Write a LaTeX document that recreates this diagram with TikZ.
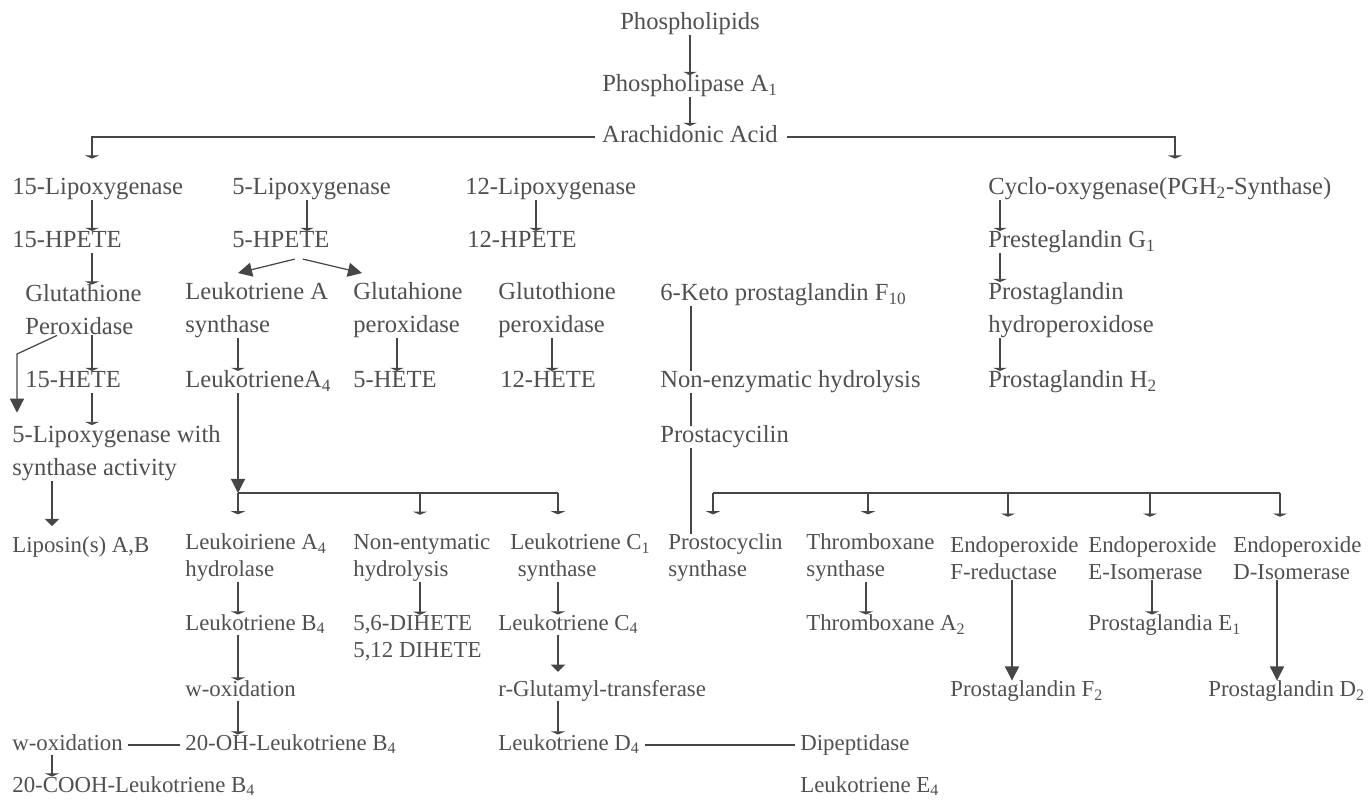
\documentclass[tikz,border=0pt]{standalone}
\usepackage{fontspec}
\setmainfont{Liberation Serif}
\usetikzlibrary{arrows.meta,calc}
\definecolor{ink}{RGB}{70,70,70}
\definecolor{txt}{RGB}{80,80,80}
\begin{document}
\begin{tikzpicture}[x=0.02cm,y=-0.02cm,
    txtup/.style={anchor=west,inner sep=0pt,align=left,text=txt,font=\fontsize{14}{18.7}\selectfont},
    txtlo/.style={anchor=west,inner sep=0pt,align=left,text=txt,font=\fontsize{13}{15.4}\selectfont},
    oneup/.style={txtup,text height=9.5pt,text depth=2.7pt},
    onelo/.style={txtlo,text height=9pt,text depth=2.5pt},
    ln/.style={ink,line width=0.7pt},
    gap/.style={ln,shorten <=3pt,shorten >=3pt},
    arr/.style={ln,-{Triangle[length=1.8pt,width=8pt]}},
    arrm/.style={ln,-{Triangle[length=4pt,width=8pt]}},
    arrb/.style={ln,-{Triangle[length=8pt,width=8pt]}}]
\useasboundingbox (0,0) rectangle (1368,807);

% arrow columns
\coordinate (c15) at (92,0);   \coordinate (c5) at (307,0);
\coordinate (c12) at (536,0);  \coordinate (cLA) at (238,0);
\coordinate (cGP) at (397,0);  \coordinate (cGT) at (552,0);
\coordinate (cPK) at (691,0);  \coordinate (cCO) at (1000,0);
\coordinate (cR) at (1175,0);  \coordinate (cNE) at (420,0);
\coordinate (cLC) at (558,0);  \coordinate (cLP) at (52,0);
\coordinate (bend) at (17,354);

% top
\node[oneup,anchor=center] (phl) at (690,24) {Phospholipids};
\node[oneup,anchor=center] (pla) at (690,86) {Phospholipase A\textsubscript{1}};
\node[oneup,anchor=center] (aa) at (690,137) {Arachidonic Acid};

\node[oneup] (l15) at (12,189) {15-Lipoxygenase};
\node[oneup] (l5) at (232,189) {5-Lipoxygenase};
\node[oneup] (l12) at (465,189) {12-Lipoxygenase};
\node[oneup] (cox) at (988,189) {Cyclo-oxygenase(PGH\textsubscript{2}-Synthase)};

\node[oneup] (hp15) at (12,242) {15-HPETE};
\node[oneup] (hp5) at (232,242) {5-HPETE};
\node[oneup] (hp12) at (467,242) {12-HPETE};
\node[oneup] (pgg) at (988,242) {Presteglandin G\textsubscript{1}};

\node[txtup] (gp15) at (25,310) {Glutathione\\Peroxidase};
\node[txtup] (lta) at (185,310) {Leukotriene A\\synthase};
\node[txtup] (gp5) at (353,310) {Glutahione\\peroxidase};
\node[txtup] (gp12) at (498,310) {Glutothione\\peroxidase};
\node[oneup] (keto) at (660,295) {6-Keto prostaglandin F\textsubscript{10}};
\node[txtup] (pgp) at (988,310) {Prostaglandin\\hydroperoxidose};

\node[oneup] (he15) at (25,382) {15-HETE};
\node[oneup] (lta4) at (185,382) {LeukotrieneA\textsubscript{4}};
\node[oneup] (he5) at (353,382) {5-HETE};
\node[oneup] (he12) at (500,382) {12-HETE};
\node[oneup] (neh) at (660,382) {Non-enzymatic hydrolysis};
\node[oneup] (pgh) at (988,382) {Prostaglandin H\textsubscript{2}};

\node[txtup] (lox) at (12,453) {5-Lipoxygenase with\\synthase activity};
\node[oneup] (pcy) at (660,437) {Prostacycilin};

% lower part
\node[onelo] (lps) at (12,547) {Liposin(s) A,B};
\node[txtlo] (lah) at (185,558) {Leukoiriene A\textsubscript{4}\\hydrolase};
\node[txtlo] (neh2) at (353,558) {Non-entymatic\\hydrolysis};
\node[txtlo] (lcs) at (510,558) {Leukotriene C\textsubscript{1}\\\hspace*{0.15cm}synthase};
\node[txtlo] (pcs) at (668,558) {Prostocyclin\\synthase};
\node[txtlo] (txs) at (806,558) {Thromboxane\\synthase};
\node[txtlo] (efr) at (950,558) {Endoperoxide\\F-reductase};
\node[txtlo] (eei) at (1088,558) {Endoperoxide\\E-Isomerase};
\node[txtlo] (edi) at (1233,558) {Endoperoxide\\D-Isomerase};

\node[onelo] (ltb4) at (185,625) {Leukotriene B\textsubscript{4}};
\node[txtlo] (dih) at (353,638) {5,6-DIHETE\\5,12 DIHETE};
\node[onelo] (ltc4) at (498,625) {Leukotriene C\textsubscript{4}};
\node[onelo] (txa) at (806,625) {Thromboxane A\textsubscript{2}};
\node[onelo] (pge) at (1088,625) {Prostaglandia E\textsubscript{1}};

\node[onelo] (wox) at (185,691) {w-oxidation};
\node[onelo] (rgt) at (498,691) {r-Glutamyl-transferase};
\node[onelo] (pgf) at (950,691) {Prostaglandin F\textsubscript{2}};
\node[onelo] (pgd) at (1208,691) {Prostaglandin D\textsubscript{2}};

\node[onelo] (wox2) at (12,745) {w-oxidation};
\node[onelo] (ohb) at (185,745) {20-OH-Leukotriene B\textsubscript{4}};
\node[onelo] (ltd4) at (498,745) {Leukotriene D\textsubscript{4}};
\node[onelo] (dip) at (800,745) {Dipeptidase};
\node[onelo] (cooh) at (12,787) {20-COOH-Leukotriene B\textsubscript{4}};
\node[onelo] (lte4) at (800,787) {Leukotriene E\textsubscript{4}};

% junctions
\coordinate (jl) at (238,493); \coordinate (jr) at (558,493);
\coordinate (kl) at (713,493); \coordinate (kr) at (1280,493);

% connectors, top
\draw[arr] (phl) -- (pla);
\draw[arr] (pla) -- (aa);
\draw[arr,shorten <=4pt,shorten >=11pt] (aa.west) -| (l15.north -| c15);
\draw[arr,shorten <=5pt,shorten >=11pt] (aa.east) -| (cox.north -| cR);
\draw[arr] (l15.south -| c15) -- (hp15.north -| c15);
\draw[arr] (l5.south -| c5) -- (hp5.north -| c5);
\draw[arr] (l12.south -| c12) -- (hp12.north -| c12);
\draw[arr] (cox.south -| cCO) -- (pgg.north -| cCO);
\draw[arr] (pgg.south -| cCO) -- (pgp.north -| cCO);
\draw[arr] (pgp.south -| cCO) -- (pgh.north -| cCO);
\draw[arr] (hp15.south -| c15) -- (gp15.north -| c15);
\draw[arr] (gp15.south -| c15) -- (he15.north -| c15);
\draw[arr] (he15.south -| c15) -- (lox.north -| c15);
\draw[arrb,shorten >=7pt] ($(gp15.south west)+(32,0)$) -- (bend) -- (lox.north -| bend);
\draw[arrb] ($(hp5.south)+(14,6)$) -- ($(lta.north west)+(53,-9)$);
\draw[arrb] ($(hp5.south)+(22,6)$) -- ($(gp5.north west)+(9,-9)$);
\draw[arr] (lta.south -| cLA) -- (lta4.north -| cLA);
\draw[arr] (gp5.south -| cGP) -- (he5.north -| cGP);
\draw[arr] (gp12.south -| cGT) -- (he12.north -| cGT);
\draw[ln] (keto.south -| cPK) -- (neh.north -| cPK);
\draw[ln] (neh.south -| cPK) -- (pcy.north -| cPK);
\draw[ln] (pcy.south -| cPK) -- (pcs.north -| cPK);

% connectors, lower
\draw[arrm,shorten >=6pt] (lox.south -| cLP) -- (lps.north -| cLP);
\draw[arrb] (lta4.south -| jl) -- (jl);
\draw[ln] (jl) -- (jr);
\draw[arr,shorten >=11pt] (jl) -- (lah.north -| jl);
\draw[arr,shorten >=11pt] (jl -| cNE) -- (neh2.north -| cNE);
\draw[arr,shorten >=11pt] (jr) -- (lcs.north -| jr);
\draw[ln] (kl) -- (kr);
\foreach \x/\n in {713/pcs,868/txs,1008/efr,1150/eei,1280/edi}
  \draw[arr,shorten >=11pt] (\x,493) -- (\n.north -| \x,0);
\draw[arr] (lah.south -| cLA) -- (ltb4.north -| cLA);
\draw[arr] (ltb4.south -| cLA) -- (wox.north -| cLA);
\draw[arr] (wox.south -| cLA) -- (ohb.north -| cLA);
\draw[arr] (neh2.south -| cNE) -- (dih.north -| cNE);
\draw[arr] (lcs.south -| cLC) -- (ltc4.north -| cLC);
\draw[arrm,shorten >=5pt] (ltc4.south -| cLC) -- (rgt.north -| cLC);
\draw[arr] (rgt.south -| cLC) -- (ltd4.north -| cLC);
\draw[arr] (txs.south -| 866,0) -- (txa.north -| 866,0);
\draw[arrb] (efr.south -| 1012,0) -- (pgf.north -| 1012,0);
\draw[arr] (eei.south -| 1152,0) -- (pge.north -| 1152,0);
\draw[arrb] (edi.south -| 1277,0) -- (pgd.north -| 1277,0);
\draw[gap] (wox2) -- (ohb);
\draw[arr] (wox2.south -| cLP) -- (cooh.north -| cLP);
\draw[gap] (ltd4) -- (dip);
\end{tikzpicture}
\end{document}
